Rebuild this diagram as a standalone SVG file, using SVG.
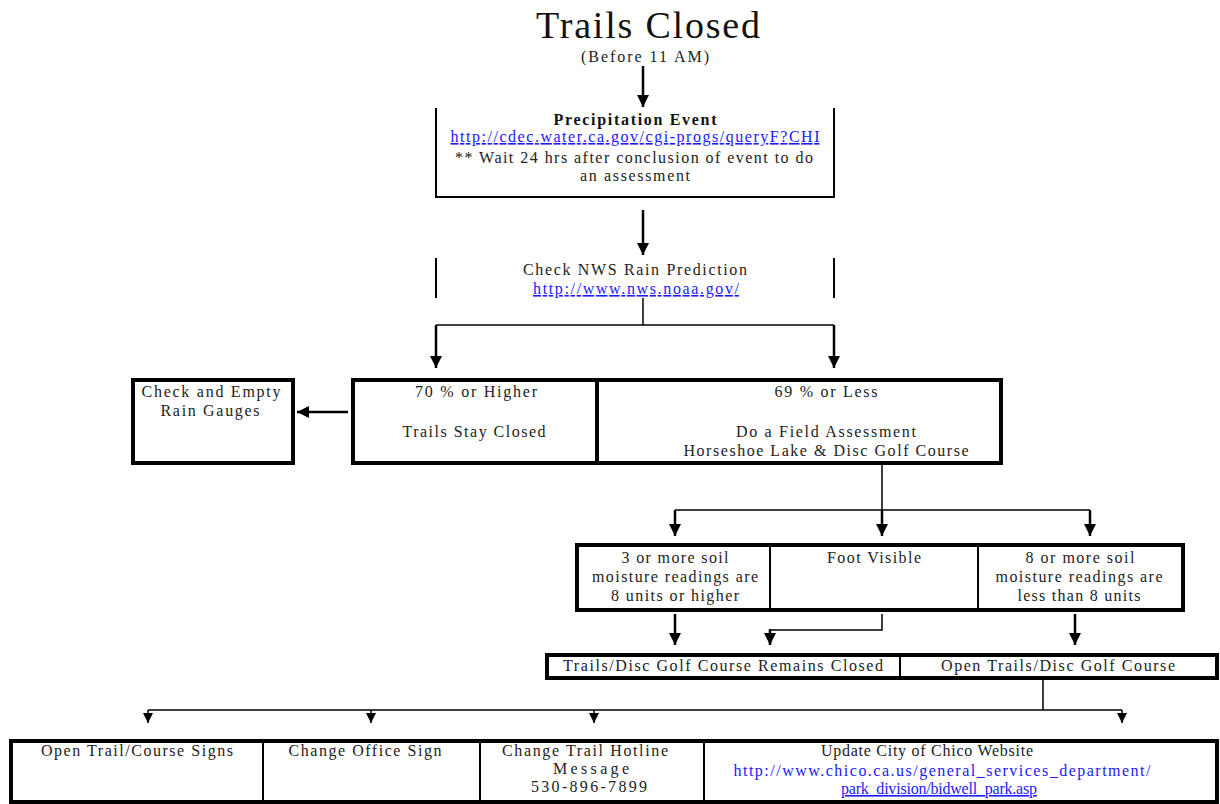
<svg xmlns="http://www.w3.org/2000/svg" width="1220" height="804" viewBox="0 0 1220 804">
<defs>
<marker id="ah" markerUnits="userSpaceOnUse" markerWidth="12" markerHeight="14" viewBox="0 0 12 14" refX="12" refY="6" orient="auto">
<path d="M0,0 L12,6 L0,12 Z" fill="#000"/>
</marker>
<marker id="ahs" markerUnits="userSpaceOnUse" markerWidth="10" markerHeight="12" viewBox="0 0 10 12" refX="10" refY="5" orient="auto">
<path d="M0,0 L10,5 L0,10 Z" fill="#000"/>
</marker>
</defs>
<style>
text{font-family:"Liberation Serif","Times New Roman",serif;font-size:16px;fill:#222;text-anchor:middle}
.t{font-size:38px;fill:#111}
.b{font-weight:bold;fill:#111}
.u{fill:#1a1aff}
.ul{text-decoration:underline}
.box{fill:#fff;stroke:#000;stroke-width:4}
.div{stroke:#000;stroke-width:2}
.side{stroke:#000;stroke-width:2;fill:none}
.c{stroke:#000;stroke-width:1.5;fill:none}
.a{stroke:#000;stroke-width:2.5;fill:none;marker-end:url(#ah)}
.as{stroke:#000;stroke-width:1.5;fill:none;marker-end:url(#ahs)}
</style>
<rect width="1220" height="804" fill="#fff"/>

<g id="title">
<text class="t" x="648" y="38" textLength="224" lengthAdjust="spacing">Trails Closed</text>
<text x="645" y="62" textLength="128" lengthAdjust="spacing">(Before 11 AM)</text>
</g>

<g id="connectors">
<line class="a" x1="643" y1="66" x2="643" y2="107"/>
<line class="a" x1="643" y1="210" x2="643" y2="255"/>
<polyline class="c" points="643,298 643,325"/>
<line class="c" x1="436" y1="325" x2="834" y2="325"/>
<line class="a" x1="436" y1="325" x2="436" y2="368"/>
<line class="a" x1="834" y1="325" x2="834" y2="368"/>
<line class="a" x1="348" y1="412" x2="297" y2="412"/>
<line class="c" x1="882" y1="463" x2="882" y2="510"/>
<line class="c" x1="675" y1="510" x2="1090" y2="510"/>
<line class="a" x1="675" y1="510" x2="675" y2="536"/>
<line class="a" x1="882" y1="510" x2="882" y2="536"/>
<line class="a" x1="1090" y1="510" x2="1090" y2="536"/>
<line class="a" x1="675" y1="614" x2="675" y2="645"/>
<polyline class="c" points="882,614 882,630 770,630"/>
<line class="a" x1="770" y1="629" x2="770" y2="645"/>
<line class="a" x1="1075" y1="614" x2="1075" y2="645"/>
<line class="c" x1="1043" y1="680" x2="1043" y2="710"/>
<line class="c" x1="148" y1="710" x2="1122" y2="710"/>
<line class="as" x1="148" y1="710" x2="148" y2="723"/>
<line class="as" x1="371" y1="710" x2="371" y2="723"/>
<line class="as" x1="594" y1="710" x2="594" y2="723"/>
<line class="as" x1="1122" y1="710" x2="1122" y2="723"/>
</g>

<g id="precipitation">
<polyline class="side" points="436,108 436,197 834,197 834,108"/>
<text class="b" x="635" y="125" textLength="163" lengthAdjust="spacing">Precipitation Event</text>
<text class="u ul" x="635" y="142" textLength="369" lengthAdjust="spacing">http://cdec.water.ca.gov/cgi-progs/queryF?CHI</text>
<text x="634" y="163" textLength="358" lengthAdjust="spacing">** Wait 24 hrs after conclusion of event to do</text>
<text x="635" y="181" textLength="110" lengthAdjust="spacing">an assessment</text>
</g>

<g id="nws">
<line class="side" x1="436" y1="258" x2="436" y2="298"/>
<line class="side" x1="834" y1="258" x2="834" y2="298"/>
<text x="635" y="275" textLength="224" lengthAdjust="spacing">Check NWS Rain Prediction</text>
<text class="u ul" x="636" y="294" textLength="206" lengthAdjust="spacing">http://www.nws.noaa.gov/</text>
</g>

<g id="gauges">
<rect class="box" x="133" y="380" width="160" height="83"/>
<text x="211" y="397" textLength="139" lengthAdjust="spacing">Check and Empty</text>
<text x="210" y="416" textLength="99" lengthAdjust="spacing">Rain Gauges</text>
</g>

<g id="prediction-result">
<rect class="box" x="353" y="380" width="648" height="83"/>
<line class="box" x1="597" y1="380" x2="597" y2="463"/>
<text x="476" y="397" textLength="122" lengthAdjust="spacing">70 % or Higher</text>
<text x="474" y="437" textLength="143" lengthAdjust="spacing">Trails Stay Closed</text>
<text x="826" y="397" textLength="103" lengthAdjust="spacing">69 % or Less</text>
<text x="826" y="437" textLength="180" lengthAdjust="spacing">Do a Field Assessment</text>
<text x="826" y="456" textLength="285" lengthAdjust="spacing">Horseshoe Lake &amp; Disc Golf Course</text>
</g>

<g id="assessment">
<rect class="box" x="577" y="545" width="606" height="65"/>
<line class="div" x1="770" y1="545" x2="770" y2="610"/>
<line class="div" x1="978" y1="545" x2="978" y2="610"/>
<text x="675" y="563" textLength="107" lengthAdjust="spacing">3 or more soil</text>
<text x="675" y="582" textLength="166" lengthAdjust="spacing">moisture readings are</text>
<text x="675" y="601" textLength="128" lengthAdjust="spacing">8 units or higher</text>
<text x="874" y="563" textLength="94" lengthAdjust="spacing">Foot Visible</text>
<text x="1080" y="563" textLength="109" lengthAdjust="spacing">8 or more soil</text>
<text x="1079" y="582" textLength="167" lengthAdjust="spacing">moisture readings are</text>
<text x="1079" y="601" textLength="123" lengthAdjust="spacing">less than 8 units</text>
</g>

<g id="outcome">
<rect class="box" x="547" y="655" width="670" height="23"/>
<line class="div" x1="900" y1="655" x2="900" y2="678"/>
<text x="723" y="671" textLength="320" lengthAdjust="spacing">Trails/Disc Golf Course Remains Closed</text>
<text x="1058" y="671" textLength="234" lengthAdjust="spacing">Open Trails/Disc Golf Course</text>
</g>

<g id="tasks">
<rect class="box" x="11" y="741" width="1206" height="61"/>
<line class="div" x1="263" y1="741" x2="263" y2="802"/>
<line class="div" x1="480" y1="741" x2="480" y2="802"/>
<line class="div" x1="704" y1="741" x2="704" y2="802"/>
<text x="137" y="756" textLength="192" lengthAdjust="spacing">Open Trail/Course Signs</text>
<text x="365" y="756" textLength="153" lengthAdjust="spacing">Change Office Sign</text>
<text x="585" y="756" textLength="166" lengthAdjust="spacing">Change Trail Hotline</text>
<text x="591" y="774" textLength="76" lengthAdjust="spacing">Message</text>
<text x="589" y="792" textLength="116" lengthAdjust="spacing">530-896-7899</text>
<text x="927" y="756" textLength="212" lengthAdjust="spacing">Update City of Chico Website</text>
<text class="u" x="942" y="776" textLength="417" lengthAdjust="spacing">http://www.chico.ca.us/general_services_department/</text>
<text class="u ul" x="939" y="794" textLength="196" lengthAdjust="spacing">park_division/bidwell_park.asp</text>
</g>
</svg>
